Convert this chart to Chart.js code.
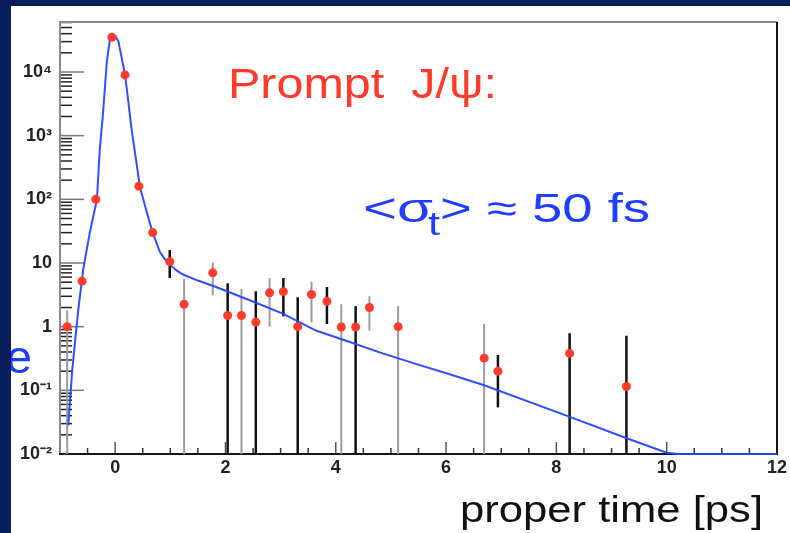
<!DOCTYPE html>
<html>
<head>
<meta charset="utf-8">
<script src="https://cdn.jsdelivr.net/npm/chart.js@4"></script>
<style>
  html, body { margin: 0; padding: 0; background: #071d5c; }
  canvas { display: block; }
</style>
</head>
<body>
<canvas id="myChart" width="790" height="533"></canvas>
<script>
// measured points (proper time in ps, counts)
const ptX = [-0.87, -0.6, -0.35, -0.06, 0.18, 0.43, 0.68, 0.99, 1.25, 1.77, 2.04, 2.29, 2.55, 2.80, 3.05, 3.31, 3.56, 3.84, 4.10, 4.36, 4.61, 5.13, 6.69, 6.94, 8.24, 9.27]
const ptY = [1.0, 5.2, 100, 35000, 9000, 160, 30, 10.5, 2.24, 7.0, 1.5, 1.5, 1.18, 3.4, 3.55, 1.0, 3.2, 2.5, 0.99, 0.99, 2.0, 1.0, 0.32, 0.2, 0.38, 0.115]
// error bars: low / high ends, k = black, g = grey, '' = none
const errLo = [0.01, null, null, null, null, null, null, 5.8, 0.01, 3.1, 0.01, 0.01, 0.01, 1.0, 1.45, 0.01, 1.17, 1.1, 0.01, 0.01, 0.87, 0.01, 0.01, 0.054, 0.01, 0.01]
const errHi = [1.8, null, null, null, null, null, null, 16, 5.6, 10.2, 4.8, 3.9, 3.6, 5.8, 5.8, 2.9, 5.1, 4.2, 2.25, 2.1, 3.0, 2.1, 1.1, 0.36, 0.79, 0.72]
const errCol = ['g', '', '', '', '', '', '', 'k', 'g', 'g', 'k', 'g', 'k', 'g', 'k', 'k', 'g', 'k', 'g', 'k', 'g', 'g', 'g', 'k', 'k', 'k']

// fitted curve
const curveX = [-0.85, -0.78, -0.67, -0.58, -0.46, -0.33, -0.28, -0.22, -0.15, -0.1, -0.06, 0.0, 0.06, 0.18, 0.3, 0.45, 0.58, 0.68, 0.81, 0.9, 0.99, 1.1, 1.23, 1.5, 1.83, 2.44, 3.04, 3.64, 4.24, 4.85, 5.45, 6.05, 6.69, 8.22, 9.25, 10.0, 10.2, 12]
const curveY = [0.028, 0.2, 1.8, 7.8, 30, 100, 590, 2240, 15000, 30000, 37000, 37000, 30000, 9000, 1230, 155, 60, 30, 15, 11.5, 9.5, 7.8, 6.6, 5.3, 4.2, 2.6, 1.6, 0.87, 0.58, 0.38, 0.26, 0.18, 0.12, 0.039, 0.018, 0.0105, 0.01, 0.01]

// axes
const xTickVals = [-1, -0.5, 0, 0.5, 1, 1.5, 2, 2.5, 3, 3.5, 4, 4.5, 5, 5.5, 6, 6.5, 7, 7.5, 8, 8.5, 9, 9.5, 10, 10.5, 11, 11.5, 12]
const xLabelVals = [0, 2, 4, 6, 8, 10, 12]
const yMajor = [0.01, 0.1, 1, 10, 100, 1000, 10000]
const yLabels = ['10⁻²', '10⁻¹', '1', '10', '10²', '10³', '10⁴']
const yMax = 61000

var yTickVals = []
for (let m of yMajor) {
    for (let k = 1; k <= 9; k++) {
        if (m * k <= yMax) yTickVals.push(m * k)
    }
}

function drawFit(ctx, text, x, y, w, font, color) {
    ctx.font = font
    let mw = ctx.measureText(text).width
    ctx.save()
    ctx.fillStyle = color
    ctx.textBaseline = 'alphabetic'
    ctx.textAlign = 'left'
    ctx.translate(x, y)
    ctx.scale(w / mw, 1)
    ctx.fillText(text, 0, 0)
    ctx.restore()
}

const decor = {
    id: 'decor',
    beforeDraw(chart) {
        const ctx = chart.ctx
        ctx.save()
        ctx.fillStyle = '#071d5c'
        ctx.fillRect(0, 0, chart.width, chart.height)
        ctx.fillStyle = '#ffffff'
        ctx.fillRect(11, 6, chart.width - 11, chart.height - 6)
        ctx.restore()
    },
    beforeDatasetsDraw(chart) {
        const ctx = chart.ctx
        const xs = chart.scales.x, ys = chart.scales.y
        const a = chart.chartArea
        ctx.save()
        // inward tick marks
        ctx.lineWidth = 1.5
        for (let v of yTickVals) {
            let py = ys.getPixelForValue(v)
            let major = yMajor.some(m => Math.abs(m - v) / m < 1e-6)
            ctx.strokeStyle = major ? '#777777' : '#222222'
            ctx.beginPath()
            ctx.moveTo(a.left, py)
            ctx.lineTo(a.left + (major ? 24 : 12), py)
            ctx.stroke()
        }
        for (let v of xTickVals) {
            let px = xs.getPixelForValue(v)
            let major = v % 2 === 0
            ctx.strokeStyle = major ? '#555555' : '#333333'
            ctx.beginPath()
            ctx.moveTo(px, a.bottom)
            ctx.lineTo(px, a.bottom - (major ? 12 : 6))
            ctx.stroke()
        }
        // frame
        ctx.lineWidth = 2
        ctx.strokeStyle = '#8a8a8a'
        ctx.beginPath()
        ctx.moveTo(a.left, a.bottom)
        ctx.lineTo(a.left, a.top)
        ctx.lineTo(a.right, a.top)
        ctx.stroke()
        ctx.strokeStyle = '#151515'
        ctx.beginPath()
        ctx.moveTo(a.right, a.top)
        ctx.lineTo(a.right, a.bottom)
        ctx.lineTo(a.left - 1, a.bottom)
        ctx.stroke()
        // error bars
        ctx.beginPath()
        ctx.rect(a.left, a.top, a.right - a.left, a.bottom - a.top)
        ctx.clip()
        for (let i = 0; i < ptX.length; i++) {
            if (!errCol[i]) continue
            let px = xs.getPixelForValue(ptX[i])
            ctx.strokeStyle = errCol[i] === 'k' ? '#111111' : '#9c9c9c'
            ctx.lineWidth = errCol[i] === 'k' ? 2.5 : 2
            ctx.beginPath()
            ctx.moveTo(px, ys.getPixelForValue(errLo[i]))
            ctx.lineTo(px, ys.getPixelForValue(errHi[i]))
            ctx.stroke()
        }
        ctx.restore()
    },
    afterDraw(chart) {
        const ctx = chart.ctx
        ctx.save()
        // slide texts
        drawFit(ctx, 'Prompt  J/ψ:', 228, 98, 269, '42px "Liberation Sans", Arial, sans-serif', '#ff3a2a')
        drawFit(ctx, '<σ', 363, 222, 70, '40px "Liberation Sans", Arial, sans-serif', '#1f3dff')
        drawFit(ctx, 't', 428, 235, 12, '34px "Liberation Sans", Arial, sans-serif', '#1f3dff')
        drawFit(ctx, '> ≈ 50 fs', 440, 222, 210, '40px "Liberation Sans", Arial, sans-serif', '#1f3dff')
        drawFit(ctx, 'proper time [ps]', 460, 522, 303, '37px "Liberation Sans", Arial, sans-serif', '#111111')

        ctx.beginPath()
        ctx.rect(11, 6, 100, chart.height)
        ctx.clip()
        drawFit(ctx, 'e', 6, 373, 26, '47px "Liberation Sans", Arial, sans-serif', '#1f3dff')
        ctx.restore()
    }
}

var ctx = document.getElementById('myChart').getContext('2d')
var myChart = new Chart(ctx, {
    type: 'scatter',
    data: {
        datasets: [{
            label: 'fit',
            type: 'line',
            data: curveX.map((v, i) => ({x: v, y: curveY[i]})),
            borderColor: 'rgba(35, 70, 255, 0.95)',
            borderWidth: 2,
            pointRadius: 0,
            tension: 0,
            fill: false,
            clip: false,
            order: 2
        }, {
            label: 'data',
            data: ptX.map((v, i) => ({x: v, y: ptY[i]})),
            backgroundColor: '#ff3b2e',
            borderWidth: 0,
            pointRadius: 4.5,
            order: 1
        }]
    },
    options: {
        responsive: false,
        animation: false,
        events: [],
        layout: { padding: { left: 0, top: 22, right: 11, bottom: 0 } },
        plugins: { legend: { display: false }, tooltip: { enabled: false } },
        scales: {
            x: {
                type: 'linear',
                min: -1,
                max: 12,
                grid: { display: false, drawTicks: false },
                border: { display: false },
                afterBuildTicks: s => { s.ticks = xTickVals.map(v => ({ value: v })) },
                afterFit: s => { s.height = 79 },
                ticks: {
                    autoSkip: false,
                    maxRotation: 0,
                    padding: 3,
                    color: '#222222',
                    font: { family: '"Liberation Sans", Arial, sans-serif', size: 18, weight: 'bold' },
                    callback: v => xLabelVals.includes(v) ? String(v) : ''
                }
            },
            y: {
                type: 'logarithmic',
                min: 0.01,
                max: yMax,
                grid: { display: false, drawTicks: false },
                border: { display: false },
                afterBuildTicks: s => { s.ticks = yTickVals.map(v => ({ value: v })) },
                afterFit: s => { s.width = 60 },
                ticks: {
                    autoSkip: false,
                    padding: 8,
                    color: '#222222',
                    font: { family: '"Liberation Sans", Arial, sans-serif', size: 18, weight: 'bold' },
                    callback: v => {
                        let i = yMajor.findIndex(m => Math.abs(m - v) / m < 1e-6)
                        return i >= 0 ? yLabels[i] : ''
                    }
                }
            }
        }
    },
    plugins: [decor]
})
</script>
</body>
</html>
